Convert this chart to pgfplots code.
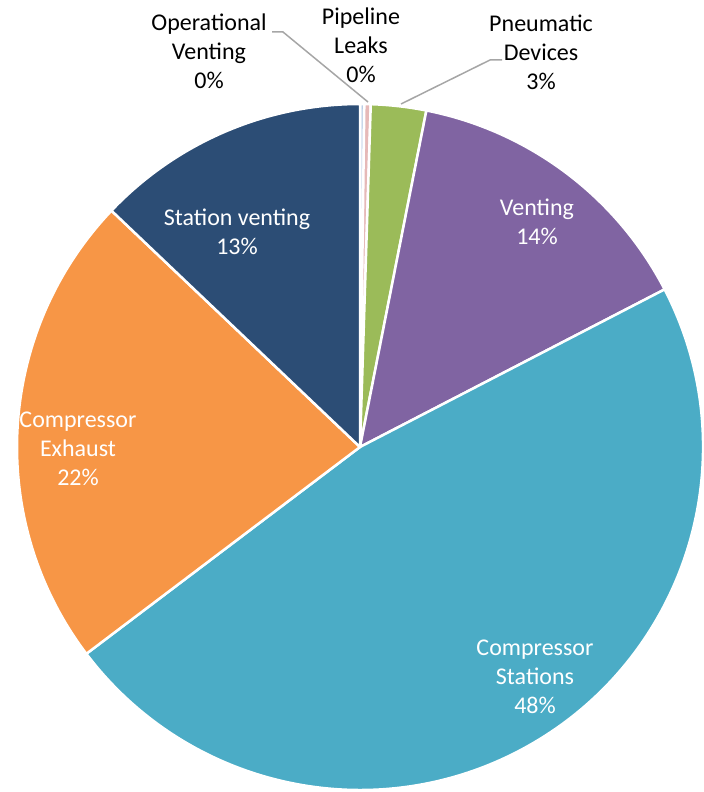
\documentclass[border=0pt]{standalone}
\usepackage{pgfplots}
\pgfplotsset{compat=1.18}
\usepackage{pgfplotstable}
\usepackage{fontspec}
\setmainfont{Carlito}
\definecolor{opv}{HTML}{B9CDE5}
\definecolor{pll}{HTML}{E6B9B8}
\definecolor{pnd}{HTML}{9BBB59}
\definecolor{ven}{HTML}{8064A2}
\definecolor{cst}{HTML}{4BACC6}
\definecolor{cex}{HTML}{F79646}
\definecolor{stv}{HTML}{2C4D75}
\definecolor{lead}{HTML}{A6A6A6}
\pgfplotstableread[col sep=comma]{
label,value,color
Operational Venting,0.2,opv
Pipeline Leaks,0.3,pll
Pneumatic Devices,2.6,pnd
Venting,14.3,ven
Compressor Stations,47.3,cst
Compressor Exhaust,22.4,cex
Station venting,12.9,stv
}\piedata
\begin{document}
\begin{tikzpicture}
\begin{axis}[
  scale only axis, width=704bp, height=792bp,
  xmin=0, xmax=704, ymin=0, ymax=792, y dir=reverse,
  hide axis, clip=false,
]
\path (axis cs:0,0) rectangle (axis cs:704,792);
\def\cum{0}
\pgfplotsforeachungrouped \i in {0,...,6}{%
  \pgfplotstablegetelem{\i}{value}\of\piedata \let\v\pgfplotsretval
  \pgfplotstablegetelem{\i}{color}\of\piedata \let\c\pgfplotsretval
  \pgfmathsetmacro\a{90-3.6*\cum}%
  \pgfmathsetmacro\b{90-3.6*(\cum+\v)}%
  \edef\tmp{\noexpand\fill[overlay, fill=\c, draw=white, line width=2.5bp, line join=round] (axis cs:360,447) -- ++(\a:343bp) arc[start angle=\a, end angle=\b, radius=343bp] -- cycle;}%
  \tmp
  \pgfmathsetmacro\cum{\cum+\v}%
}
\draw[lead, line width=1.5bp] (axis cs:272,32) -- (axis cs:283,32) -- (axis cs:368,102);
\draw[lead, line width=1.5bp] (axis cs:502,60) -- (axis cs:490,60) -- (axis cs:401,104);
\tikzset{lbl/.style={align=center, inner sep=0pt, font=\fontsize{24bp}{29bp}\selectfont}}
\node[lbl] at (axis cs:209,51) {Operational\\Venting\\0\%};
\node[lbl] at (axis cs:361,45) {Pipeline\\Leaks\\0\%};
\node[lbl] at (axis cs:541,52) {Pneumatic\\Devices\\3\%};
\node[lbl, text=white] at (axis cs:537,222) {Venting\\14\%};
\node[lbl, text=white] at (axis cs:237,232) {Station venting\\13\%};
\node[lbl, text=white] at (axis cs:78,449) {Compressor\\Exhaust\\22\%};
\node[lbl, text=white] at (axis cs:535,677) {Compressor\\Stations\\48\%};
\end{axis}
\end{tikzpicture}
\end{document}
